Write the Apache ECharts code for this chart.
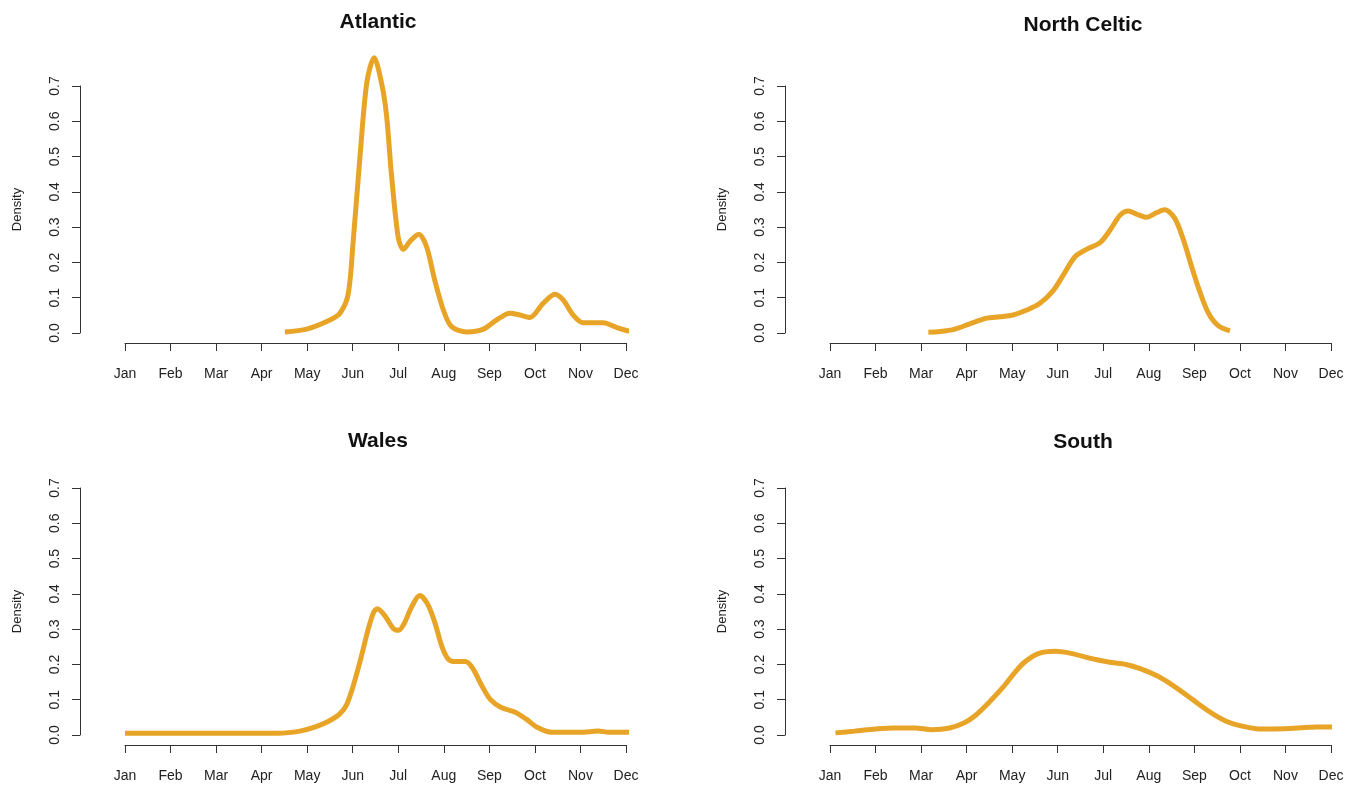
<!DOCTYPE html>
<html>
<head>
<meta charset="utf-8">
<script src="https://cdn.jsdelivr.net/npm/echarts@6/dist/echarts.min.js"></script>
<style>
  html, body { margin: 0; padding: 0; background: #fff; }
  #main { width: 1361px; height: 787px; }
</style>
</head>
<body>
<div id="main"></div>
<script>
var months = ['Jan', 'Feb', 'Mar', 'Apr', 'May', 'Jun', 'Jul', 'Aug', 'Sep', 'Oct', 'Nov', 'Dec'];
var yTicks = [0, 0.1, 0.2, 0.3, 0.4, 0.5, 0.6, 0.7];
var panelTitles = ['Atlantic', 'North Celtic', 'Wales', 'South'];

// month position (Jan = 1) and density
var atlanticMonth = [4.51, 4.99, 5.50, 5.72, 5.90, 6.01, 6.16, 6.31, 6.47, 6.63, 6.74, 6.85, 7.00, 7.11, 7.26, 7.45, 7.62, 7.80, 7.99, 8.17, 8.50, 8.87, 9.16, 9.45, 9.67, 9.89, 10.18, 10.44, 10.62, 10.84, 11.06, 11.50, 11.79, 12.09, 12.34];
var atlanticDensity = [0.003, 0.011, 0.037, 0.056, 0.11, 0.26, 0.50, 0.71, 0.78, 0.71, 0.62, 0.45, 0.27, 0.237, 0.26, 0.28, 0.245, 0.15, 0.065, 0.018, 0.003, 0.011, 0.037, 0.056, 0.051, 0.044, 0.084, 0.11, 0.094, 0.051, 0.029, 0.029, 0.016, 0.005, 0.002];

var celticMonth = [3.16, 3.42, 3.74, 4.07, 4.44, 4.73, 5.02, 5.32, 5.61, 5.90, 6.12, 6.38, 6.63, 6.93, 7.15, 7.37, 7.55, 7.73, 7.95, 8.17, 8.35, 8.57, 8.76, 8.94, 9.12, 9.31, 9.53, 9.78];
var celticDensity = [0.002, 0.004, 0.011, 0.026, 0.042, 0.046, 0.051, 0.065, 0.084, 0.12, 0.164, 0.216, 0.237, 0.256, 0.292, 0.334, 0.346, 0.337, 0.328, 0.341, 0.349, 0.325, 0.264, 0.188, 0.117, 0.056, 0.020, 0.006];

var walesMonth = [1.0, 4.37, 4.84, 5.16, 5.47, 5.71, 5.87, 6.02, 6.18, 6.34, 6.46, 6.54, 6.70, 6.89, 7.01, 7.13, 7.29, 7.47, 7.64, 7.80, 7.96, 8.11, 8.27, 8.47, 8.63, 8.82, 9.02, 9.26, 9.58, 9.81, 10.05, 10.36, 11.0, 11.39, 11.62, 12.10];
var walesDensity = [0.005, 0.005, 0.011, 0.022, 0.039, 0.059, 0.087, 0.143, 0.218, 0.30, 0.348, 0.358, 0.339, 0.302, 0.297, 0.316, 0.362, 0.395, 0.372, 0.320, 0.250, 0.213, 0.208, 0.208, 0.190, 0.143, 0.101, 0.078, 0.064, 0.045, 0.022, 0.008, 0.008, 0.011, 0.008, 0.008];

var southMonth = [1.12, 1.54, 2.01, 2.39, 2.86, 3.24, 3.63, 3.94, 4.17, 4.48, 4.79, 5.02, 5.25, 5.56, 5.95, 6.34, 6.72, 7.11, 7.50, 7.81, 8.19, 8.50, 8.81, 9.12, 9.43, 9.74, 10.05, 10.36, 10.59, 10.98, 11.29, 11.67, 12.02];
var southDensity = [0.006, 0.011, 0.017, 0.020, 0.020, 0.015, 0.020, 0.034, 0.053, 0.091, 0.134, 0.171, 0.204, 0.230, 0.237, 0.230, 0.217, 0.207, 0.200, 0.188, 0.167, 0.143, 0.115, 0.085, 0.058, 0.037, 0.025, 0.018, 0.017, 0.018, 0.020, 0.023, 0.023];

var panelMonths = [atlanticMonth, celticMonth, walesMonth, southMonth];
var panelDensity = [atlanticDensity, celticDensity, walesDensity, southDensity];

function pairs(xs, ys) {
  return xs.map(function (x, i) { return [x, ys[i]]; });
}

var lineColor = '#E8A427';
var axisColor = '#333';
var font = 'Liberation Sans, Arial, sans-serif';

// grid placement: left = Jan tick, top = 0.7 tick
var gridLeft = [125, 830, 125, 830];
var gridTop = [86, 86, 488, 488];
var titleX = [373, 1078, 373, 1078];
var titleY = [7, 10, 426, 427];

var grids = [], xAxes = [], yAxes = [], series = [], titles = [];

for (var i = 0; i < 4; i++) {
  grids.push({ left: gridLeft[i], top: gridTop[i], width: 501, height: 247 });
  titles.push({
    text: panelTitles[i],
    left: titleX[i],
    top: titleY[i],
    textAlign: 'center',
    textStyle: { fontSize: 21, fontWeight: 'bold', color: '#111', fontFamily: font }
  });
  xAxes.push({
    gridIndex: i,
    type: 'value',
    min: 1,
    max: 12,
    interval: 1,
    offset: 10,
    axisLine: { show: true, onZero: false, lineStyle: { color: axisColor, width: 1 } },
    axisTick: { show: true, length: 8, lineStyle: { color: axisColor } },
    axisLabel: {
      formatter: function (v) { return months[Math.round(v) - 1]; },
      fontSize: 14, color: '#222', margin: 24, fontFamily: font
    },
    splitLine: { show: false }
  });
  yAxes.push({
    gridIndex: i,
    type: 'value',
    min: yTicks[0],
    max: yTicks[yTicks.length - 1],
    interval: 0.1,
    offset: 45,
    name: 'Density',
    nameLocation: 'middle',
    nameGap: 56,
    nameTextStyle: { fontSize: 13, color: '#222', fontFamily: font },
    axisLine: { show: true, onZero: false, lineStyle: { color: axisColor, width: 1 } },
    axisTick: { show: true, length: 8, lineStyle: { color: axisColor } },
    axisLabel: {
      rotate: 90,
      formatter: function (v) { return v.toFixed(1); },
      fontSize: 14, color: '#222', margin: 18, fontFamily: font
    },
    splitLine: { show: false }
  });
  series.push({
    type: 'line',
    xAxisIndex: i,
    yAxisIndex: i,
    data: pairs(panelMonths[i], panelDensity[i]),
    showSymbol: false,
    smooth: 0.3,
    clip: false,
    lineStyle: { color: lineColor, width: 5 }
  });
}

var chart = echarts.init(document.getElementById('main'));
chart.setOption({
  backgroundColor: '#fff',
  animation: false,
  title: titles,
  grid: grids,
  xAxis: xAxes,
  yAxis: yAxes,
  series: series
});
</script>
</body>
</html>
